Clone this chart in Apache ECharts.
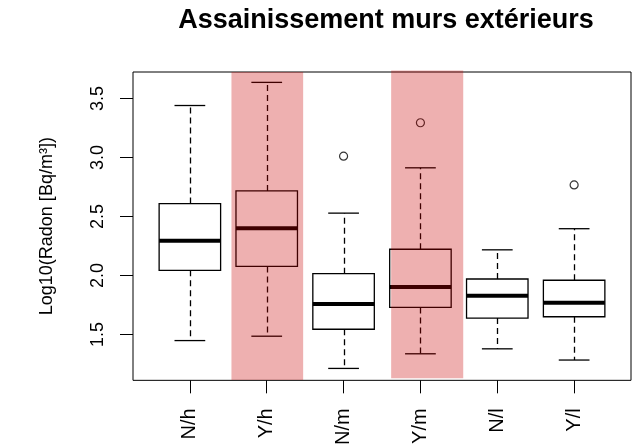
<!DOCTYPE html>
<html>
<head>
<meta charset="utf-8">
<script src="https://cdn.jsdelivr.net/npm/echarts@6/dist/echarts.min.js"></script>
<style>
html,body{margin:0;padding:0;background:#fff;}
#chart{width:634px;height:448px;}
</style>
</head>
<body>
<div id="chart"></div>
<script>
// ---- data ----
const categories = ['N/h', 'Y/h', 'N/m', 'Y/m', 'N/l', 'Y/l'];
const lowerWhisker = [1.449, 1.486, 1.213, 1.337, 1.379, 1.284];
const q1Values     = [2.044, 2.077, 1.545, 1.730, 1.640, 1.651];
const medianValues = [2.294, 2.400, 1.758, 1.903, 1.828, 1.769];
const q3Values     = [2.610, 2.717, 2.016, 2.223, 1.971, 1.960];
const upperWhisker = [3.441, 3.637, 2.529, 2.913, 2.218, 2.397];
const outlierCategories = ['N/m', 'Y/m', 'Y/l'];
const outlierValues = [3.012, 3.295, 2.768];
// highlighted groups (shaded bands): x from/to, y from/to in data units
const bandCategories = ['Y/h', 'Y/m'];
const bandXFrom = [1.541, 3.619];
const bandXTo   = [2.474, 4.557];
const bandYFrom = [1.115, 1.129];
const bandYTo   = [3.725, 3.738];
const yTicks = [1.5, 2.0, 2.5, 3.0, 3.5];

const FONT = 'Liberation Sans, Arial, sans-serif';
const boxData = categories.map((c, i) => [i + 1, lowerWhisker[i], q1Values[i], medianValues[i], q3Values[i], upperWhisker[i]]);
const outlierData = outlierCategories.map((c, i) => [categories.indexOf(c) + 1, outlierValues[i]]);
const bandData = bandCategories.map((c, i) => [bandXFrom[i], bandXTo[i], bandYFrom[i], bandYTo[i]]);
const xTickValues = categories.map((c, i) => i + 1);

function renderBox(params, api) {
  const x = api.value(0);
  const half = 0.4, capHalf = 0.2;
  const pLow = api.coord([x, api.value(1)]);
  const pQ1 = api.coord([x, api.value(2)]);
  const pMed = api.coord([x, api.value(3)]);
  const pQ3 = api.coord([x, api.value(4)]);
  const pHigh = api.coord([x, api.value(5)]);
  const left = api.coord([x - half, 0])[0];
  const right = api.coord([x + half, 0])[0];
  const capL = api.coord([x - capHalf, 0])[0];
  const capR = api.coord([x + capHalf, 0])[0];
  const cx = Math.round(pMed[0]) + 0.5;
  const solid = { stroke: '#000', lineWidth: 1.3, fill: null };
  const dashed = { stroke: '#000', lineWidth: 1.3, lineDash: [6, 4], fill: null };
  return {
    type: 'group',
    children: [
      { type: 'line', shape: { x1: cx, y1: pQ3[1], x2: cx, y2: pHigh[1] }, style: dashed },
      { type: 'line', shape: { x1: cx, y1: pQ1[1], x2: cx, y2: pLow[1] }, style: dashed },
      { type: 'line', shape: { x1: capL, y1: pHigh[1], x2: capR, y2: pHigh[1] }, style: solid },
      { type: 'line', shape: { x1: capL, y1: pLow[1], x2: capR, y2: pLow[1] }, style: solid },
      { type: 'rect', shape: { x: left, y: pQ3[1], width: right - left, height: pQ1[1] - pQ3[1] },
        style: { fill: '#fff', stroke: '#000', lineWidth: 1.3 } },
      { type: 'line', shape: { x1: left, y1: pMed[1], x2: right, y2: pMed[1] }, style: { stroke: '#000', lineWidth: 4 } }
    ]
  };
}

function renderBand(params, api) {
  const p1 = api.coord([api.value(0), api.value(3)]);
  const p2 = api.coord([api.value(1), api.value(2)]);
  return {
    type: 'rect',
    shape: { x: p1[0], y: p1[1], width: p2[0] - p1[0], height: p2[1] - p1[1] },
    style: { fill: 'rgba(200,0,0,0.31)' }
  };
}

const chart = echarts.init(document.getElementById('chart'), null, { renderer: 'canvas' });
chart.setOption({
  animation: false,
  backgroundColor: '#fff',
  textStyle: { fontFamily: FONT },
  title: {
    text: 'Assainissement murs extérieurs',
    left: 381,
    textAlign: 'center',
    top: 2,
    textStyle: { fontFamily: FONT, fontSize: 27, fontWeight: 'bold', color: '#000' }
  },
  grid: {
    left: 133, right: 3, top: 72, bottom: 65,
    show: true, borderColor: '#000', borderWidth: 1, backgroundColor: 'transparent'
  },
  xAxis: {
    type: 'value', min: 0.26, max: 6.74,
    axisLine: { show: false },
    splitLine: { show: false },
    axisTick: { show: true, customValues: xTickValues, length: 13, lineStyle: { color: '#000', width: 1 } },
    axisLabel: {
      customValues: xTickValues, rotate: 90, margin: 28, fontSize: 20, color: '#000', fontFamily: FONT,
      formatter: v => categories[Math.round(v) - 1] || ''
    }
  },
  yAxis: {
    type: 'value', min: 1.112, max: 3.725,
    name: 'Log10(Radon [Bq/m³])',
    nameLocation: 'middle', nameGap: 77,
    nameTextStyle: { fontSize: 18, color: '#000', fontFamily: FONT },
    axisLine: { show: false },
    splitLine: { show: false },
    axisTick: { show: true, customValues: yTicks, length: 13, lineStyle: { color: '#000', width: 1 } },
    axisLabel: {
      customValues: yTicks, rotate: 90, margin: 26, fontSize: 18, color: '#000', fontFamily: FONT,
      formatter: v => Number(v).toFixed(1)
    }
  },
  series: [
    { type: 'custom', name: 'boxes', renderItem: renderBox, data: boxData, z: 3,
      encode: { x: 0, y: [1, 2, 3, 4, 5] } },
    { type: 'scatter', name: 'outliers', data: outlierData, z: 4, symbol: 'circle', symbolSize: 8,
      itemStyle: { color: '#fff', borderColor: '#000', borderWidth: 1.2 } },
    { type: 'custom', name: 'highlight', renderItem: renderBand, data: bandData, z: 10,
      encode: { x: [0, 1], y: [2, 3] } }
  ]
});
</script>
</body>
</html>
